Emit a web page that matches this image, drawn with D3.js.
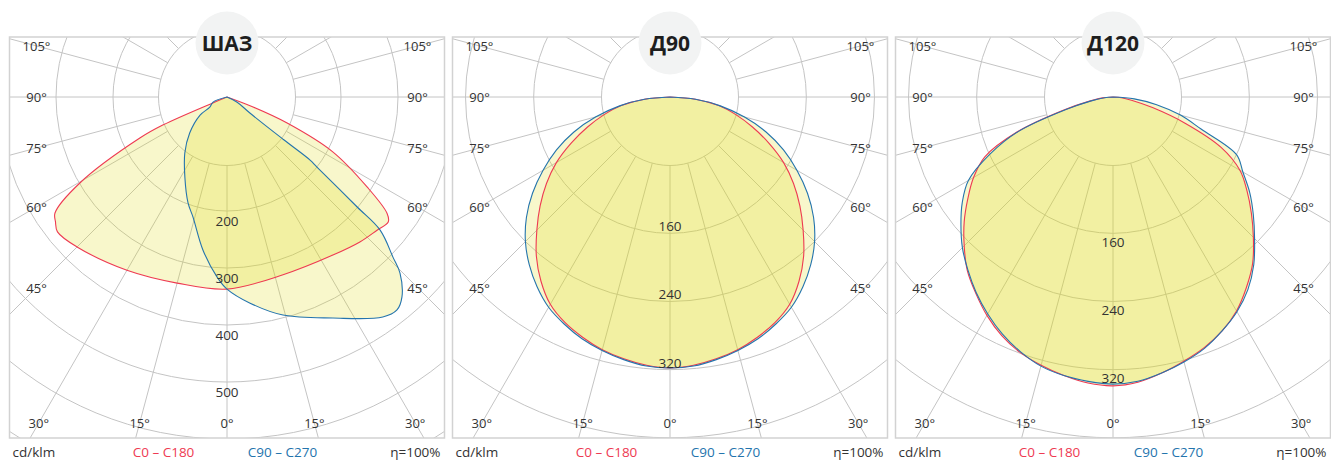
<!DOCTYPE html>
<html>
<head>
<meta charset="utf-8">
<script src="https://cdn.jsdelivr.net/npm/d3@7"></script>
<style>
  html, body { margin: 0; padding: 0; background: #fff; }
  svg { display: block; }
  text { font-family: "Open Sans", "Noto Sans", sans-serif; }
</style>
</head>
<body>
<svg id="chart" width="1331" height="462"></svg>
<script>
// Polar light-distribution diagrams (cd/klm).
// Angles are measured from nadir; negative = left half, positive = right half.

const panelTitles = ["ШАЗ", "Д90", "Д120"];

// ---- ШАЗ ----
const sha3C0Angles = [-90, -67.4, -66.4, -64.8, -59.7, -56, -54, -51.5, -45, -30, -15, 0, 17.5, 34, 42.5, 48.4, 52.2, 54, 57.3, 62.6, 66.6, 69, 90];
const sha3C0Values = [0, 27, 123, 169, 299, 364, 372, 380, 372, 351, 338, 337, 327, 334, 345, 352, 358, 347, 292, 209, 115, 49, 0];
const sha3C90Angles = [-90, -70, -59.5, -56, -46, -37, -27.7, -20.2, -15.8, -8.9, -3.2, 0, 6.4, 14.4, 25.6, 35.3, 38.6, 41.2, 44.5, 46, 49, 49.8, 52.1, 52.8, 53, 55, 63, 90];
const sha3C90Values = [0, 26, 35, 57, 91, 123, 159, 198, 219, 272, 316, 337, 364, 395, 430, 473, 478, 466, 433, 405, 356, 299, 200, 183, 124, 49, 20, 0];
const sha3Rings = [200, 300, 400, 500, 600, 700];
const sha3RingLabels = [200, 300, 400, 500];

// ---- Д90 / Д120 share a 5° angle grid ----
const gridAngles = [-90, -85, -80, -75, -70, -65, -60, -55, -50, -45, -40, -35, -30, -25, -20, -15, -10, -5, 0,
                    5, 10, 15, 20, 25, 30, 35, 40, 45, 50, 55, 60, 65, 70, 75, 80, 85, 90];

const d90C0Values = [0, 30, 58, 80, 103, 128, 154, 177, 199, 221, 244, 264, 281, 292, 300, 307, 312, 316, 318,
                     316, 312, 307, 300, 292, 281, 264, 244, 221, 199, 177, 154, 128, 103, 80, 58, 30, 0];
const d90C90Values = [0, 30, 60, 90, 120, 147, 172, 197, 220, 240, 257, 272, 285, 294, 302, 308, 313, 317, 318,
                      317, 313, 308, 302, 294, 285, 272, 257, 240, 220, 197, 172, 147, 120, 90, 60, 30, 0];
const d90Rings = [160, 240, 320, 400];
const d90RingLabels = [160, 240, 320];

const d120C0Values = [0, 12, 28, 62, 120, 166, 189, 208, 228, 247, 266, 281, 296, 309, 319, 326, 332, 337, 339,
                      336, 329, 321, 313, 303, 290, 273, 255, 233, 212, 192, 172, 140, 90, 48, 22, 10, 0];
const d120C90Values = [0, 10, 26, 58, 118, 160, 196, 216, 233, 250, 265, 280, 294, 307, 318, 327, 332, 335, 337,
                       335, 329, 322, 314, 303, 291, 276, 257, 235, 215, 196, 176, 160, 110, 82, 52, 25, 0];
const d120Rings = [160, 240, 320, 400];
const d120RingLabels = [160, 240, 320];

const rayAngles = [0, 15, 30, 45, 60, 75, 90, 105, 120, 135, 150, 165, 180];
const rayLabelAngles = [0, 15, 30, 45, 60, 75, 90, 105];

const legendUnit = "cd/klm";
const legendC0 = "C0 – C180";
const legendC90 = "C90 – C270";
const legendEff = "η=100%";

// ---- layout ----
const frameTop = 37, frameBottom = 438, frameW = 435;
const cy = 97, holeR = 68.5;
const colors = { c0: "#ee3a52", c90: "#2474ad", grid: "#c4c4c4", frame: "#d2d2d2", text: "#333", fill: "#dfda13" };

const zip = (a, v) => a.map((d, i) => [d, v[i]]);

const panels = [
  { title: panelTitles[0], left: 9.5, pxPerCd: 0.57,
    c0: zip(sha3C0Angles, sha3C0Values), c90: zip(sha3C90Angles, sha3C90Values),
    rings: sha3Rings, ringLabels: sha3RingLabels, labelDy: 10 },
  { title: panelTitles[1], left: 452.5, pxPerCd: 0.852,
    c0: zip(gridAngles, d90C0Values), c90: zip(gridAngles, d90C90Values),
    rings: d90Rings, ringLabels: d90RingLabels, labelDy: -7 },
  { title: panelTitles[2], left: 895.5, pxPerCd: 0.852,
    c0: zip(gridAngles, d120C0Values), c90: zip(gridAngles, d120C90Values),
    rings: d120Rings, ringLabels: d120RingLabels, labelDy: 8.5 }
];

const svg = d3.select("#chart");
const defs = svg.append("defs");
const rad = d => d * Math.PI / 180;

panels.forEach((p, i) => {
  const x0 = p.left, x1 = p.left + frameW, cx = p.left + frameW / 2;
  const g = svg.append("g");
  const r = d3.scaleLinear().domain([0, 100]).range([0, 100 * p.pxPerCd]);

  const clipId = "frame-clip-" + i;
  defs.append("clipPath").attr("id", clipId)
    .append("rect").attr("x", x0).attr("y", frameTop)
    .attr("width", frameW).attr("height", frameBottom - frameTop);

  // grid
  const grid = g.append("g").attr("clip-path", `url(#${clipId})`)
    .attr("fill", "none").attr("stroke", colors.grid).attr("stroke-width", 1);

  grid.selectAll("circle.ring").data(p.rings).join("circle")
    .attr("class", "ring").attr("cx", cx).attr("cy", cy).attr("r", d => r(d));
  grid.append("circle").attr("cx", cx).attr("cy", cy).attr("r", holeR);

  const rays = [];
  rayAngles.forEach(a => { rays.push(a); if (a !== 0 && a !== 180) rays.push(-a); });
  grid.selectAll("line.ray").data(rays).join("line")
    .attr("class", "ray")
    .attr("x1", d => cx + holeR * Math.sin(rad(d)))
    .attr("y1", d => cy + holeR * Math.cos(rad(d)))
    .attr("x2", d => cx + 700 * Math.sin(rad(d)))
    .attr("y2", d => cy + 700 * Math.cos(rad(d)));

  // light distribution curves
  const radial = d3.lineRadial()
    .angle(d => Math.PI - rad(d[0]))
    .radius(d => r(d[1]))
    .curve(d3.curveCatmullRom.alpha(0.5));

  const curves = g.append("g").attr("transform", `translate(${cx},${cy})`);
  [p.c0, p.c90].forEach(pts => {
    curves.append("path").attr("d", radial(pts) + "Z")
      .attr("fill", colors.fill).attr("fill-opacity", 0.22).attr("stroke", "none");
  });
  curves.append("path").attr("d", radial(p.c0))
    .attr("fill", "none").attr("stroke", colors.c0).attr("stroke-width", 1.1);
  curves.append("path").attr("d", radial(p.c90))
    .attr("fill", "none").attr("stroke", colors.c90).attr("stroke-width", 1.1);

  // ring value labels
  g.selectAll("text.ringlab").data(p.ringLabels).join("text")
    .attr("class", "ringlab")
    .attr("x", cx).attr("y", d => cy + r(d) + p.labelDy)
    .attr("text-anchor", "middle").attr("dominant-baseline", "central")
    .attr("font-size", 13.5).attr("fill", colors.text)
    .text(d => d);

  // angle labels along the frame
  const insetX = frameW / 2 - 27, insetBottom = frameBottom - 15 - cy;
  const angLabels = [];
  rayLabelAngles.forEach(a => { angLabels.push(a); if (a !== 0) angLabels.push(-a); });
  g.selectAll("text.anglab").data(angLabels).join("text")
    .attr("class", "anglab")
    .each(function (d) {
      const dx = Math.sin(rad(d)), dy = Math.cos(rad(d));
      let t = Infinity;
      if (Math.abs(dx) > 1e-6) t = Math.min(t, insetX / Math.abs(dx));
      if (dy > 1e-6) t = Math.min(t, insetBottom / dy);
      d3.select(this).attr("x", cx + t * dx).attr("y", cy + t * dy);
    })
    .attr("text-anchor", "middle").attr("dominant-baseline", "central")
    .attr("font-size", 13).attr("fill", colors.text)
    .text(d => Math.abs(d) + "°");

  // frame
  g.append("rect").attr("x", x0).attr("y", frameTop)
    .attr("width", frameW).attr("height", frameBottom - frameTop)
    .attr("fill", "none").attr("stroke", colors.frame).attr("stroke-width", 1.5);

  // title badge
  g.append("circle").attr("cx", cx).attr("cy", 43).attr("r", 31.5).attr("fill", "#f2f3f3");
  g.append("text").attr("x", cx).attr("y", 43)
    .attr("text-anchor", "middle").attr("dominant-baseline", "central")
    .attr("font-size", 21).attr("font-weight", 700).attr("fill", "#1e1e1e")
    .text(p.title);

  // legend row
  const ly = 452;
  const leg = g.append("g").attr("font-size", 13.5).attr("dominant-baseline", "central");
  leg.append("text").attr("x", x0 + 3).attr("y", ly).attr("fill", colors.text).text(legendUnit);
  leg.append("text").attr("x", x0 + 154).attr("y", ly).attr("text-anchor", "middle").attr("fill", colors.c0).text(legendC0);
  leg.append("text").attr("x", x0 + 273).attr("y", ly).attr("text-anchor", "middle").attr("fill", colors.c90).text(legendC90);
  leg.append("text").attr("x", x1 - 4).attr("y", ly).attr("text-anchor", "end").attr("fill", colors.text).text(legendEff);
});
</script>
</body>
</html>
